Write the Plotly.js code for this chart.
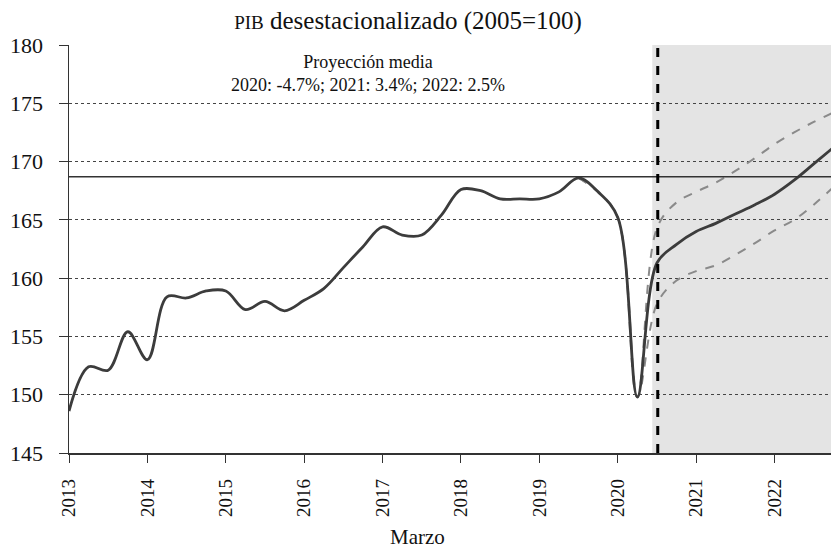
<!DOCTYPE html>
<html>
<head>
<meta charset="utf-8">
<script src="https://cdn.plot.ly/plotly-3.0.1.min.js"></script>
<style>html,body{margin:0;padding:0;background:#fff;}#chart{width:831px;height:552px;}</style>
</head>
<body>
<div id="chart"></div>
<script>
// Quarterly positions (year fractions, tick = March of each year)
const mainX = [2013.00,2013.25,2013.50,2013.75,2014.00,2014.25,2014.50,2014.75,
  2015.00,2015.25,2015.50,2015.75,2016.00,2016.25,2016.50,2016.75,
  2017.00,2017.25,2017.50,2017.75,2018.00,2018.25,2018.50,2018.75,
  2019.00,2019.25,2019.50,2019.75,2020.00,2020.25,2020.50,2020.75,
  2021.00,2021.25,2021.50,2021.75,2022.00,2022.25,2022.50,2022.75];
const mainY = [148.6,152.4,152.1,155.4,153.0,158.4,158.3,158.9,
  158.9,157.3,158.0,157.2,158.1,159.1,160.9,162.7,
  164.4,163.7,163.7,165.4,167.6,167.5,166.8,166.8,
  166.8,167.4,168.6,167.4,165.2,149.8,161.3,162.9,
  164.0,164.7,165.5,166.3,167.2,168.4,169.8,171.2];

const bandX = [2019.50,2019.75,2020.00,2020.25,2020.50,2020.75,2021.00,2021.25,2021.50,2021.75,2022.00,2022.25,2022.50,2022.75];
const upperY = [168.6,167.4,165.2,149.8,164.3,166.5,167.4,168.2,169.2,170.3,171.5,172.5,173.4,174.2];
const lowerY = [168.6,167.4,165.2,149.8,157.8,159.8,160.6,161.1,162.0,163.0,164.1,165.0,166.3,167.8];

const tickYears = [2013,2014,2015,2016,2017,2018,2019,2020,2021,2022];
const tickLabels = ["2013","2014","2015","2016","2017","2018","2019","2020","2021","2022"];

const refLevel = 168.7;        // horizontal reference line
const shadeStart = 2020.44;    // projection shading start
const projLine = 2020.51;      // dashed vertical line
const bandStart = 2020.0;      // bands are drawn from here on
const xRange = [2013, 2022.72];
const yRange = [145, 180];

const FONT = "Liberation Serif, DejaVu Serif, serif";

const traces = [
  {x: bandX, y: upperY, mode: 'lines', line: {color: '#8a8a8a', width: 2, dash: 'dash', shape: 'spline', smoothing: 1}, hoverinfo: 'skip', showlegend: false},
  {x: bandX, y: lowerY, mode: 'lines', line: {color: '#8a8a8a', width: 2, dash: 'dash', shape: 'spline', smoothing: 1}, hoverinfo: 'skip', showlegend: false},
  {x: mainX, y: mainY, mode: 'lines', line: {color: '#3c3c3c', width: 2.8, shape: 'spline', smoothing: 1}, showlegend: false}
];

const layout = {
  width: 831, height: 552,
  margin: {l: 69, r: 0, t: 45, b: 99},
  paper_bgcolor: '#fff', plot_bgcolor: '#fff',
  font: {family: FONT, color: '#111'},
  showlegend: false,
  title: {
    text: '<span style="font-size:19px">PIB</span> desestacionalizado (2005=100)',
    font: {family: FONT, size: 25, color: '#111'},
    xref: 'container', x: 0.491, xanchor: 'center',
    yref: 'container', y: 0.964, yanchor: 'middle'
  },
  xaxis: {
    range: xRange, tickmode: 'array', tickvals: tickYears, ticktext: tickLabels,
    tickangle: -90, ticks: 'outside', ticklen: 8, tickcolor: '#333', tickwidth: 1,
    showline: true, linecolor: '#333', linewidth: 1.5,
    showgrid: false, zeroline: false,
    tickfont: {family: FONT, size: 19, color: '#111'},
    ticklabelstandoff: 9
  },
  yaxis: {
    range: yRange, dtick: 5, tick0: 145,
    ticks: 'outside', ticklen: 9, tickcolor: '#333', tickwidth: 1,
    showline: true, linecolor: '#333', linewidth: 1.5,
    showgrid: true, gridcolor: '#444', gridwidth: 1, griddash: 'dot',
    zeroline: false,
    tickfont: {family: FONT, size: 22, color: '#111'},
    ticklabelstandoff: 11
  },
  shapes: [
    {type: 'rect', xref: 'x', yref: 'paper', x0: shadeStart, x1: xRange[1], y0: 0, y1: 1, fillcolor: '#e4e4e4', line: {width: 0}, layer: 'below'},
    {type: 'line', xref: 'paper', yref: 'y', x0: 0, x1: 1, y0: refLevel, y1: refLevel, line: {color: '#333', width: 1.5}, layer: 'above'},
    {type: 'line', xref: 'x', yref: 'paper', x0: projLine, x1: projLine, y0: 0, y1: 1, line: {color: '#000', width: 3, dash: 'dash'}, layer: 'above'}
  ],
  annotations: [
    {text: 'Proyección media<br>2020: -4.7%; 2021: 3.4%; 2022: 2.5%', xref: 'paper', yref: 'paper', x: 0.392, y: 0.929, xanchor: 'center', yanchor: 'middle', showarrow: false, font: {family: FONT, size: 18, color: '#111'}},
    {text: 'Marzo', xref: 'paper', yref: 'paper', x: 0.458, y: -0.206, xanchor: 'center', yanchor: 'middle', showarrow: false, font: {family: FONT, size: 21, color: '#111'}}
  ]
};

Plotly.newPlot('chart', traces, layout, {displayModeBar: false, staticPlot: true});
</script>
</body>
</html>
